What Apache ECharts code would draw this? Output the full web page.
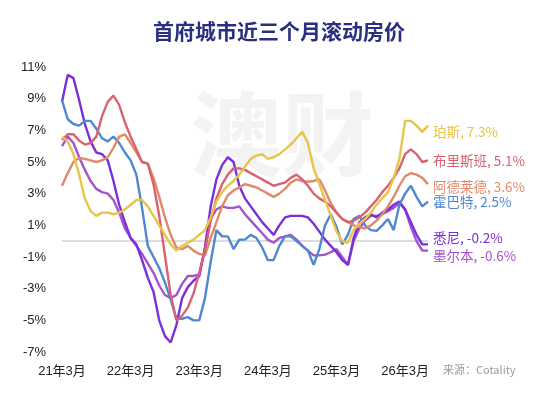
<!DOCTYPE html>
<html>
<head>
<meta charset="utf-8">
<script src="https://cdn.jsdelivr.net/npm/echarts@6/dist/echarts.min.js"></script>
<style>
html,body{margin:0;padding:0;background:#fff;}
#c{width:558px;height:395px;}
</style>
</head>
<body>
<div id="c"></div>
<script>
// Monthly categories from 21年3月, labelled every 12 months
const startYear = 21, startMonth = 3, monthCount = 65;
const categories = [];
for (let i = 0; i < monthCount; i++) {
  const m = startMonth - 1 + i;
  categories.push((startYear + Math.floor(m / 12)) + '年' + (m % 12 + 1) + '月');
}
const tickLabels = ['21年3月','22年3月','23年3月','24年3月','25年3月','26年3月'];
const yTickValues = [-7,-5,-3,-1,1,3,5,7,9,11];

const perth = [6.6,6.3,5.5,4.2,2.7,1.9,1.6,1.8,1.8,1.7,1.8,2.0,2.3,2.6,2.6,2.2,1.6,1.0,0.4,-0.2,-0.6,-0.3,-0.1,0.1,0.4,0.7,1.5,2.5,3.1,3.5,3.8,4.2,4.7,5.2,5.4,5.5,5.2,5.3,5.5,5.8,6.1,6.5,6.9,6.2,4.6,3.6,2.6,1.6,0.6,0.0,-0.1,0.7,1.1,1.4,1.8,2.3,2.7,3.1,4.0,5.2,7.6,7.6,7.3,6.9,7.3];
const brisbane = [6.4,6.75,6.75,6.35,6.1,6.2,6.6,7.9,8.8,9.2,8.6,7.5,6.6,5.8,5.0,4.9,3.6,1.6,-0.9,-3.4,-5.0,-4.7,-4.2,-3.3,-2.0,-0.6,1.3,2.7,3.6,4.2,4.6,4.6,4.5,4.3,4.1,3.9,3.7,3.5,3.6,3.7,4.0,4.2,3.9,3.5,3.0,2.7,2.5,2.2,1.8,1.4,1.2,1.3,1.5,1.8,2.2,2.6,3.1,3.5,4.0,4.6,5.5,5.8,5.5,5.0,5.1];
const adelaide = [3.5,4.3,5.0,5.25,5.2,5.1,5.0,5.1,5.3,5.9,6.6,6.75,6.2,5.6,5.0,4.9,4.0,2.8,1.5,0.4,-0.4,-0.5,-0.3,-0.6,-0.8,-0.9,0.2,1.2,2.2,2.9,3.2,3.4,3.6,3.5,3.4,3.2,3.0,2.8,3.0,3.3,3.7,3.9,3.8,3.75,3.8,3.9,3.2,2.4,1.8,1.4,1.2,1.0,0.9,0.8,1.0,1.3,1.7,2.2,2.8,3.5,4.1,4.3,4.2,4.0,3.6];
const hobart = [8.9,7.7,7.4,7.3,7.6,7.6,7.1,6.5,6.3,6.6,6.2,5.6,5.1,4.2,2.1,-0.3,-1.0,-1.7,-2.6,-3.7,-4.9,-4.9,-4.8,-5.0,-5.0,-3.6,-1.3,0.7,0.3,0.3,-0.5,0.1,0.1,0.4,0.2,-0.4,-1.2,-1.2,-0.3,0.3,0.3,0.0,-0.3,-0.6,-1.5,-0.5,1.0,1.7,0.9,-0.2,0.4,1.4,1.6,1.0,0.7,0.65,1.0,1.4,0.7,2.3,3.0,3.5,2.8,2.2,2.5];
const sydney = [8.8,10.5,10.3,8.9,7.4,6.3,5.6,5.5,5.1,3.8,2.3,1.2,0.2,-0.2,-1.2,-2.3,-3.2,-5.0,-6.0,-6.4,-5.3,-3.6,-2.9,-2.5,-2.2,-0.4,2.2,3.9,4.8,5.3,5.0,3.5,2.7,2.2,1.7,1.2,0.8,0.4,1.0,1.5,1.6,1.6,1.6,1.5,1.1,0.6,0.1,-0.3,-0.7,-1.2,-1.5,0.2,1.2,1.5,1.7,1.5,1.8,2.0,2.3,2.5,2.0,1.2,0.4,-0.2,-0.2];
const melbourne = [6.0,6.6,6.2,5.3,4.5,3.8,3.3,3.1,3.0,2.6,1.8,0.8,0.2,-0.3,-0.8,-1.4,-2.0,-2.8,-3.4,-3.6,-3.4,-2.7,-2.2,-2.2,-2.1,-0.5,1.4,2.0,2.2,2.1,2.1,2.2,1.7,1.3,0.9,0.5,0.1,-0.1,0.2,0.3,0.4,0.1,-0.3,-0.6,-0.9,-0.9,-0.85,-0.7,-0.5,-1.0,-1.5,0.0,0.8,1.3,1.6,1.6,1.7,1.9,2.1,2.4,2.0,0.9,0.0,-0.6,-0.6];

const seriesNames = ['珀斯','布里斯班','阿德莱德','霍巴特','悉尼','墨尔本'];
const endValues = ['7.3%','5.1%','3.6%','2.5%','-0.2%','-0.6%'];
const seriesData = [perth, brisbane, adelaide, hobart, sydney, melbourne];
const colors = ['#E8C54A','#DA616F','#E08A6C','#4E88CF','#7B2FDB','#A553C9'];
const labelOffsets = [[0,6],[0,0],[0,3],[0,0],[0,-6],[0,5]];

const chart = echarts.init(document.getElementById('c'), null, {renderer:'canvas'});
const series = seriesData.map((d, k) => ({
  name: seriesNames[k],
  type: 'line',
  data: d,
  showSymbol: false,
  smooth: false,
  lineStyle: {width: 2.4, color: colors[k]},
  itemStyle: {color: colors[k]},
  z: 10 - k,
  endLabel: {
    show: true,
    formatter: seriesNames[k] + ', ' + endValues[k],
    color: colors[k],
    fontSize: 13.5,
    fontFamily: 'Noto Sans CJK SC',
    distance: 5,
    offset: labelOffsets[k]
  },
  markLine: k === 0 ? {
    silent: true, symbol: ['none','none'], label: {show:false},
    lineStyle: {color:'#d0d0d0', width:1.5, type:'solid'},
    data: [{yAxis: 0}], z: 1
  } : undefined
}));

chart.setOption({
  animation: false,
  backgroundColor: '#fff',
  title: {
    text: '首府城市近三个月滚动房价',
    left: 'center', top: 16,
    textStyle: {fontSize: 21, fontWeight: 'bold', color: '#29307F', fontFamily: 'Noto Sans CJK SC'}
  },
  graphic: [
    {type:'text', left: 190, top: 88, z: 0, silent: true,
     style:{text:'澳财', fontSize: 92, fontWeight:'bold', fill:'#f3f3f3', fontFamily:'Noto Sans CJK SC'}},
    {type:'text', left: 443, top: 364, style:{text:'来源：Cotality', fontSize: 11, fill:'#9a9a9a', fontFamily:'Noto Sans CJK SC'}}
  ],
  grid: {left: 62, right: 130, top: 67, bottom: 43},
  xAxis: {
    type: 'category',
    data: categories,
    boundaryGap: false,
    axisLine: {show: false},
    axisTick: {show: false},
    axisLabel: {
      interval: (i, v) => tickLabels.indexOf(v) >= 0,
      color: '#222', fontSize: 13, margin: 13, fontFamily: 'Liberation Sans, Noto Sans CJK SC'
    },
    splitLine: {show: false}
  },
  yAxis: {
    type: 'value',
    min: -7, max: 11, interval: 1,
    axisLine: {show:false}, axisTick: {show:false},
    splitLine: {show:false},
    axisLabel: {
      color: '#222', fontSize: 13, margin: 16, fontFamily: 'Liberation Sans',
      formatter: v => yTickValues.indexOf(Math.round(v)) >= 0 ? Math.round(v) + '%' : ''
    }
  },
  series: series
});
</script>
</body>
</html>
